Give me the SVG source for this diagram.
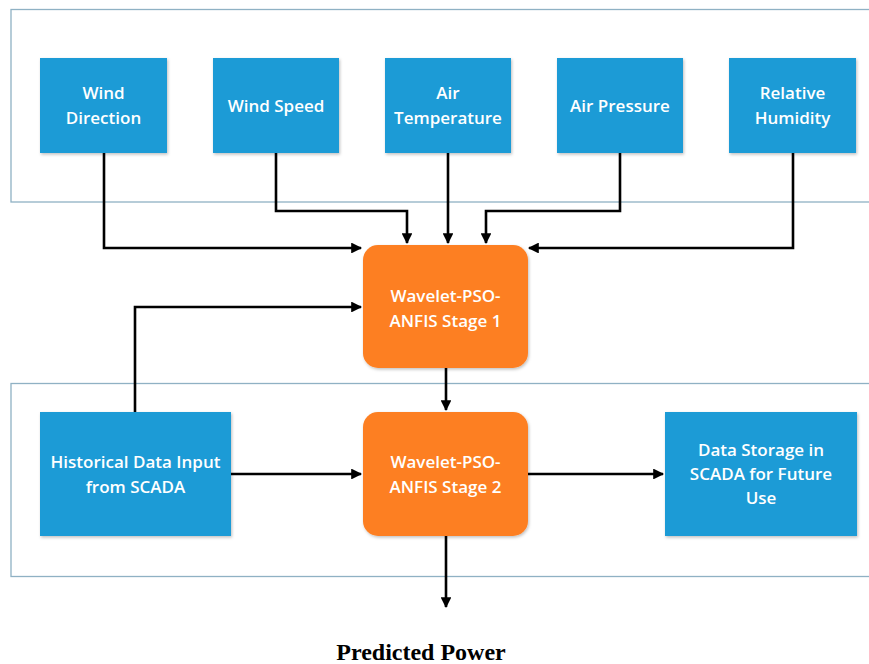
<svg xmlns="http://www.w3.org/2000/svg" width="869" height="664" viewBox="0 0 869 664">
  <defs>
    <marker id="arrow" viewBox="0 0 10 10" refX="9" refY="5" markerWidth="4.6" markerHeight="4.2" orient="auto" markerUnits="strokeWidth">
      <path d="M0,0 L10,5 L0,10 z" fill="#000"/>
    </marker>
    <filter id="shadow" x="-10%" y="-10%" width="125%" height="125%">
      <feDropShadow dx="1" dy="1.5" stdDeviation="1.5" flood-color="#000" flood-opacity="0.25"/>
    </filter>
  </defs>
  <style>
    .frame { fill: none; stroke: #8fb1c4; stroke-width: 1.3; }
    .input { fill: #1c9bd6; filter: url(#shadow); }
    .stage { fill: #fd7f22; filter: url(#shadow); }
    .label { font-family: "Open Sans", "Noto Sans", sans-serif; font-weight: 600; font-size: 17px; fill: #fff; text-anchor: middle; }
    .wire { fill: none; stroke: #000; stroke-width: 2.6; marker-end: url(#arrow); }
    .caption { font-family: "Liberation Serif", "DejaVu Serif", serif; font-weight: bold; font-size: 24px; fill: #000; text-anchor: middle; }
  </style>
  <rect width="869" height="664" fill="#fff"/>

  <!-- grouping frames -->
  <rect class="frame" x="11" y="9.5" width="880" height="192.5"/>
  <rect class="frame" x="11" y="383.5" width="880" height="193"/>

  <!-- connectors -->
  <g id="connectors">
    <path class="wire" d="M104,153 V248 H361"/>
    <path class="wire" d="M276,153 V211 H407 V243"/>
    <path class="wire" d="M448,153 V243"/>
    <path class="wire" d="M620,153 V211 H486 V243"/>
    <path class="wire" d="M793,153 V248 H529"/>
    <path class="wire" d="M135,412 V307 H361"/>
    <path class="wire" d="M446,368 V410"/>
    <path class="wire" d="M231,474 H361"/>
    <path class="wire" d="M528,474 H663"/>
    <path class="wire" d="M446,536 V607"/>
  </g>

  <g id="wind-direction">
    <rect class="input" x="40" y="58" width="127" height="95"/>
    <text class="label" x="103.5" y="99">Wind</text>
    <text class="label" x="103.5" y="124">Direction</text>
  </g>
  <g id="wind-speed">
    <rect class="input" x="213" y="58" width="126" height="95"/>
    <text class="label" x="276" y="111.5">Wind Speed</text>
  </g>
  <g id="air-temperature">
    <rect class="input" x="385" y="58" width="126" height="95"/>
    <text class="label" x="448" y="99">Air</text>
    <text class="label" x="448" y="124">Temperature</text>
  </g>
  <g id="air-pressure">
    <rect class="input" x="557" y="58" width="126" height="95"/>
    <text class="label" x="620" y="111.5">Air Pressure</text>
  </g>
  <g id="relative-humidity">
    <rect class="input" x="729" y="58" width="127" height="95"/>
    <text class="label" x="792.5" y="99">Relative</text>
    <text class="label" x="792.5" y="124">Humidity</text>
  </g>

  <g id="stage-1">
    <rect class="stage" x="363" y="245" width="165" height="123" rx="15"/>
    <text class="label" x="445.5" y="302">Wavelet-PSO-</text>
    <text class="label" x="445.5" y="327">ANFIS Stage 1</text>
  </g>
  <g id="stage-2">
    <rect class="stage" x="363" y="412" width="165" height="124" rx="15"/>
    <text class="label" x="445.5" y="468">Wavelet-PSO-</text>
    <text class="label" x="445.5" y="493">ANFIS Stage 2</text>
  </g>

  <g id="historical-data">
    <rect class="input" x="40" y="412" width="191" height="124"/>
    <text class="label" x="135.5" y="468">Historical Data Input</text>
    <text class="label" x="135.5" y="493">from SCADA</text>
  </g>
  <g id="data-storage">
    <rect class="input" x="665" y="412" width="192" height="124"/>
    <text class="label" x="761" y="456">Data Storage in</text>
    <text class="label" x="761" y="480">SCADA for Future</text>
    <text class="label" x="761" y="504">Use</text>
  </g>

  <g id="predicted-power">
    <text class="caption" x="421" y="660">Predicted Power</text>
  </g>
</svg>
